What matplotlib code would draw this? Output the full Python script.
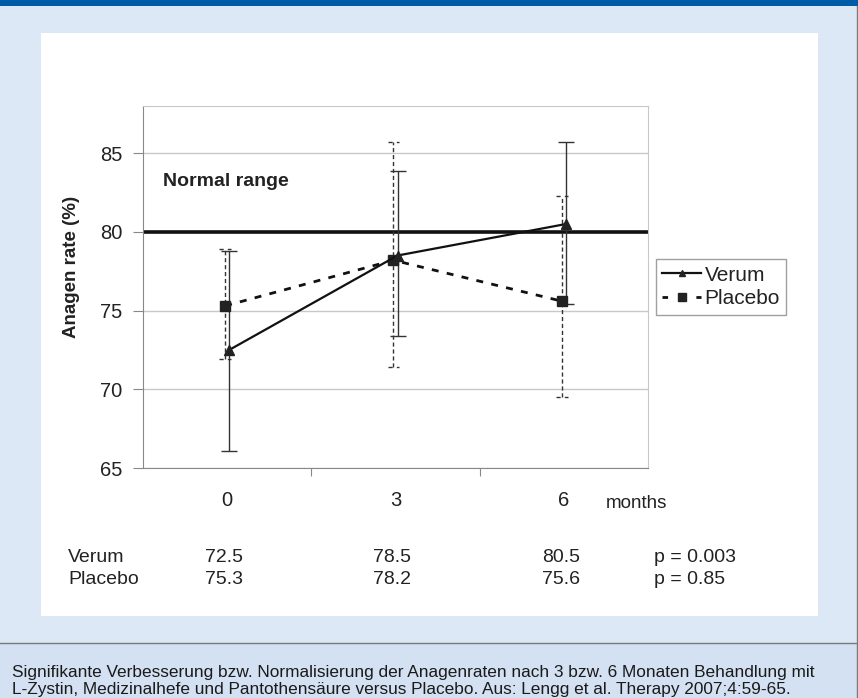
import matplotlib
matplotlib.use("Agg")
import matplotlib.pyplot as plt
from matplotlib.patches import Rectangle
from matplotlib.lines import Line2D

# ---- data ----
months = ["0", "3", "6"]
verum = [72.5, 78.5, 80.5]
placebo = [75.3, 78.2, 75.6]
verum_lo = [66.1, 73.4, 75.4]
verum_hi = [78.8, 83.9, 85.7]
placebo_lo = [71.9, 71.4, 69.5]
placebo_hi = [78.9, 85.7, 82.3]
normal_range = 80
yticks = [65, 70, 75, 80, 85]
p_values = ["p = 0.003", "p = 0.85"]
caption = ("Signifikante Verbesserung bzw. Normalisierung der Anagenraten nach 3 bzw. 6 Monaten Behandlung mit\n"
           "L-Zystin, Medizinalhefe und Pantothensäure versus Placebo. Aus: Lengg et al. Therapy 2007;4:59-65.")

W, H = 858, 698
plt.rcParams['font.family'] = ['Liberation Sans', 'DejaVu Sans']
fig = plt.figure(figsize=(W / 100, H / 100), dpi=100)
fig.patch.set_facecolor('#dde8f6')

def px_rect(x0, y0, x1, y1, **kw):
    fig.patches.append(Rectangle((x0 / W, 1 - y1 / H), (x1 - x0) / W, (y1 - y0) / H,
                                 transform=fig.transFigure, figure=fig, zorder=-5, **kw))

px_rect(0, 0, W, 6, facecolor='#005ba6', edgecolor='none')
px_rect(41, 33, 818, 616, facecolor='white', edgecolor='none')
px_rect(0, 643, W, H, facecolor='#d3e1f3', edgecolor='none')
fig.add_artist(Line2D([0, 1], [1 - 643 / H, 1 - 643 / H], transform=fig.transFigure, color='#7a7a7a', lw=1, zorder=-4))
fig.add_artist(Line2D([1 - 1.5 / W, 1 - 1.5 / W], [0, 1 - 6 / H], transform=fig.transFigure, color='#7a7a7a', lw=1, zorder=-4))

ax = fig.add_axes([143 / W, 1 - 468 / H, (648 - 143) / W, (468 - 106) / H])
ax.set_zorder(1)
ax.set_facecolor('white')
x = list(range(len(months)))
off = 0.012
xv = [i + off for i in x]
xp = [i - off for i in x]

ax.set_xlim(-0.5, 2.5)
ax.set_ylim(65, 88)
ax.set_yticks(yticks)
ax.yaxis.grid(True, color='#c8c8c8', lw=1)
ax.set_axisbelow(True)

ax.axhline(normal_range, color='#111111', lw=2.6, zorder=2)

# error bars
for i in range(3):
    ax.plot([xp[i], xp[i]], [placebo_lo[i], placebo_hi[i]], color='#333333', lw=1, ls=(0, (3, 2)), zorder=3)
    for yy in (placebo_lo[i], placebo_hi[i]):
        ax.plot([xp[i] - 0.035, xp[i] + 0.035], [yy, yy], color='#333333', lw=1, ls=(0, (3, 3)), zorder=3)
ax.errorbar(xv, verum, yerr=[[v - l for v, l in zip(verum, verum_lo)], [h - v for v, h in zip(verum, verum_hi)]],
            fmt='none', ecolor='#333333', elinewidth=1, capsize=6, capthick=1, zorder=3)

ax.plot(xp, placebo, color='#111111', lw=2, ls=(0, (2.5, 3)), marker='s', ms=7, mfc='#222222', mec='#222222',
        label='Placebo', zorder=4)
ax.plot(xv, verum, color='#111111', lw=1.6, marker='^', ms=6.5, mfc='#222222', mec='#222222',
        label='Verum', zorder=5)

h, l = ax.get_legend_handles_labels()
hv = Line2D([], [], color='#111111', lw=1.6, marker='^', ms=5, mfc='#222222', mec='#222222')
hp = Line2D([], [], color='#111111', lw=2, ls=(0, (2, 10.2)), marker='s', ms=5.5, mfc='#222222', mec='#222222')
leg = ax.legend([hv, hp], [l[1], l[0]], loc='center left', bbox_to_anchor=(1.015, 0.5),
                frameon=True, fancybox=False, fontsize=15, handlelength=1.9, handletextpad=0.15,
                borderpad=0.3, labelspacing=0.22, borderaxespad=0)
leg.get_frame().set_edgecolor('#888888')
leg.get_frame().set_linewidth(1)
for t in leg.get_texts():
    t.set_color('#222222')

ax.text(-0.38, 83.2, "Normal range", fontsize=14, fontweight='bold', color='#222222', va='center')

ax.set_xticks([0.5, 1.5])
ax.set_xticklabels([])
ax.tick_params(axis='x', length=6, color='#888888', direction='out')
ax.tick_params(axis='y', length=7, color='#888888', labelsize=14.5, labelcolor='#222222', pad=8)
for i, m in enumerate(months):
    ax.text(i, 62.95, m, ha='center', va='center', fontsize=14.5, color='#222222')
ax.text(2.25, 62.75, "months", ha='left', va='center', fontsize=13.5, color='#222222')

ax.set_ylabel("Anagen rate (%)", fontsize=13.5, fontweight='bold', color='#222222')
ax.yaxis.set_label_coords(-0.125, 0.555)

for side in ['top', 'right']:
    ax.spines[side].set_color('#c8c8c8')
for side in ['left', 'bottom']:
    ax.spines[side].set_color('#888888')

# table below
rows_y = [558, 580]
names = ["Verum", "Placebo"]
series = [verum, placebo]
for r in range(2):
    fy = 1 - rows_y[r] / H
    fig.text(68 / W, fy, names[r], ha='left', va='center', fontsize=14, color='#222222')
    for i in range(3):
        xd = ax.transData.transform((i, 70))[0] / W
        fig.text(xd - 3 / W, fy, f"{series[r][i]:.1f}", ha='center', va='center', fontsize=14, color='#222222')
    fig.text(654 / W, fy, p_values[r], ha='left', va='center', fontsize=14, color='#222222')

fig.text(12 / W, 1 - 681 / H, caption, ha='left', va='center', fontsize=12.4, color='#1a1a1a',
         linespacing=1.2)

fig.savefig("out.png", dpi=100, facecolor=fig.get_facecolor())
